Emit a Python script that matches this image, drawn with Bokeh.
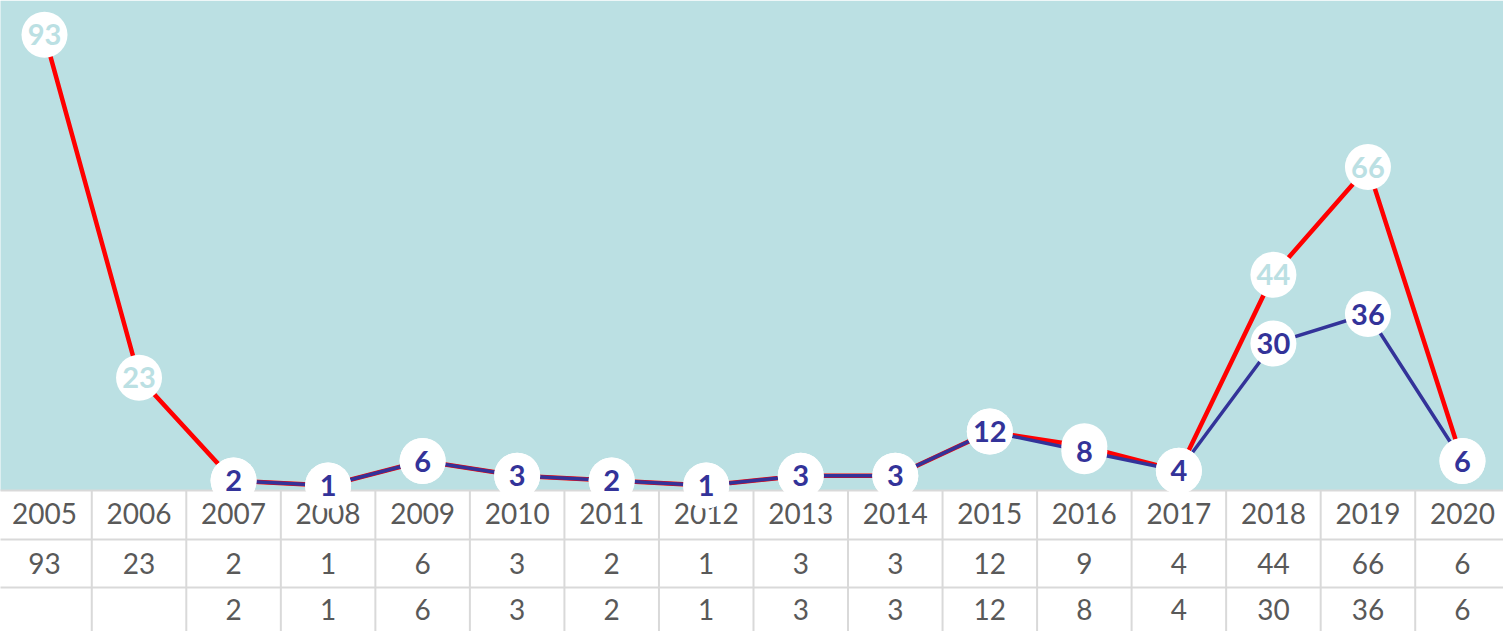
import math
from bokeh.plotting import figure
from bokeh.models import Range1d
from bokeh.core.properties import value
from bokeh.embed import file_html
from bokeh.resources import INLINE

# ---- data ----
years = ["2005", "2006", "2007", "2008", "2009", "2010", "2011", "2012",
         "2013", "2014", "2015", "2016", "2017", "2018", "2019", "2020"]
series_red = [93, 23, 2, 1, 6, 3, 2, 1, 3, 3, 12, 9, 4, 44, 66, 6]
series_blue = [None, None, 2, 1, 6, 3, 2, 1, 3, 3, 12, 8, 4, 30, 36, 6]

# ---- styles ----
TEAL = "#BBE0E3"
RED = "#FF0000"
BLUE = "#333399"
GRID = "#D9D9D9"
TXT = "#595959"
FONT = value("Lato")

W, H = 1503, 631
Y_TOP, Y_BOT = 100, -28.8
ROW1, ROW2 = -10.0, -19.8
TXT_Y = [-4.7, -14.9, -24.3]

p = figure(width=W, height=H, x_range=Range1d(-0.4655, 15.434),
           y_range=Range1d(Y_BOT, Y_TOP), output_backend="svg",
           toolbar_location=None, min_border=0)
p.axis.visible = False
p.grid.visible = False
p.outline_line_color = None
p.background_fill_color = "white"
p.border_fill_color = "white"

n = len(years)
xs = list(range(n))

# plot area background
p.quad(left=-1, right=n, bottom=0, top=Y_TOP, fill_color=TEAL, line_color=None)

# data table grid
hy = [0, ROW1, ROW2]
p.segment(x0=[-1] * 3, x1=[n] * 3, y0=hy, y1=hy, line_color=GRID, line_width=2)
vx = [k - 0.5 for k in range(n + 1)]
p.segment(x0=vx, x1=vx, y0=[0] * len(vx), y1=[Y_BOT - 2] * len(vx),
          line_color=GRID, line_width=2)

# data table text
TS = "28px"
p.text(x=xs, y=[TXT_Y[0]] * n, text=years, text_align="center",
       text_baseline="middle", text_font=FONT, text_font_size=TS,
       text_color=TXT)
p.text(x=xs, y=[TXT_Y[1]] * n, text=[str(v) for v in series_red],
       text_align="center", text_baseline="middle", text_font=FONT,
       text_font_size=TS, text_color=TXT)
bx = [x for x, v in zip(xs, series_blue) if v is not None]
bv = [v for v in series_blue if v is not None]
p.text(x=bx, y=[TXT_Y[2]] * len(bx), text=[str(v) for v in bv],
       text_align="center", text_baseline="middle", text_font=FONT,
       text_font_size=TS, text_color=TXT)

# lines
p.line(xs, series_red, line_color=RED, line_width=4.5)
p.line(bx, bv, line_color=BLUE, line_width=3.5)

LS = "29px"
# red markers + labels
p.scatter(xs, series_red, size=46, fill_color="white", line_color=None)
p.text(x=xs, y=series_red, text=[str(v) for v in series_red],
       text_align="center", text_baseline="middle", text_font=FONT,
       text_font_style="bold", text_font_size=LS, text_color=TEAL)

# blue markers + labels
p.scatter(bx, bv, size=46, fill_color="white", line_color=None)
p.text(x=bx, y=bv, text=[str(v) for v in bv],
       text_align="center", text_baseline="middle", text_font=FONT,
       text_font_style="bold", text_font_size=LS, text_color=BLUE)

open("out.html", "w").write(file_html(p, INLINE))
